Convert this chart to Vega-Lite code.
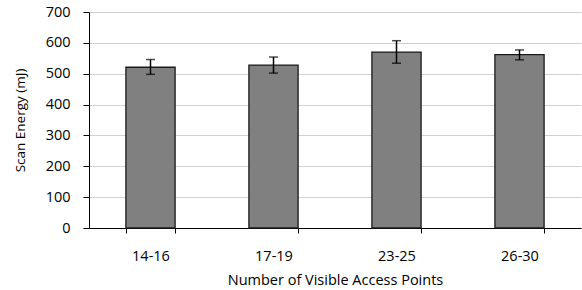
{
  "$schema": "https://vega.github.io/schema/vega-lite/v6.json",
  "autosize": "none",
  "width": 492,
  "height": 216,
  "padding": {"left": 89, "top": 12, "right": 1, "bottom": 62},
  "background": "white",
  "config": {
    "view": {"stroke": null},
    "font": "Open Sans",
    "axis": {"labelFont": "Open Sans", "titleFont": "Open Sans", "labelColor": "#000", "titleColor": "#000", "titleFontWeight": "normal", "labelFontSize": 14.5, "titleFontSize": 13.5}
  },
  "data": {"values": [
    {"ap": "14-16", "energy": 521, "lo": 498, "hi": 546},
    {"ap": "17-19", "energy": 528, "lo": 502, "hi": 554},
    {"ap": "23-25", "energy": 570, "lo": 534, "hi": 607},
    {"ap": "26-30", "energy": 562, "lo": 545, "hi": 577}
  ]},
  "encoding": {
    "x": {"field": "ap", "type": "nominal", "sort": null,
      "scale": {"paddingInner": 0.6, "paddingOuter": 0.3},
      "axis": {"title": "Number of Visible Access Points", "titleFontSize": 14.5, "labelAngle": 0, "tickBand": "extent", "domainColor": "#000", "tickColor": "#000", "tickSize": 5, "labelPadding": 16, "titlePadding": 11, "grid": false}},
    "y": {"field": "energy", "type": "quantitative",
      "scale": {"domain": [0, 700]},
      "axis": {"title": "Scan Energy (mJ)", "values": [0,100,200,300,400,500,600,700], "labelOverlap": false, "gridColor": "#d0d0d0", "domainColor": "#000", "tickColor": "#000", "tickSize": 6, "labelPadding": 13, "titlePadding": 18}}
  },
  "layer": [
    {
      "mark": {"type": "bar", "color": "#808080", "stroke": "#1a1a1a", "strokeWidth": 1.3}
    },
    {
      "mark": {"type": "rule", "color": "#000", "strokeWidth": 1.5},
      "encoding": {"y": {"field": "lo", "type": "quantitative"}, "y2": {"field": "hi"}}
    },
    {
      "mark": {"type": "tick", "color": "#000", "thickness": 1.5, "size": 9, "orient": "horizontal"},
      "encoding": {"y": {"field": "lo", "type": "quantitative"}}
    },
    {
      "mark": {"type": "tick", "color": "#000", "thickness": 1.5, "size": 9, "orient": "horizontal"},
      "encoding": {"y": {"field": "hi", "type": "quantitative"}}
    }
  ]
}
